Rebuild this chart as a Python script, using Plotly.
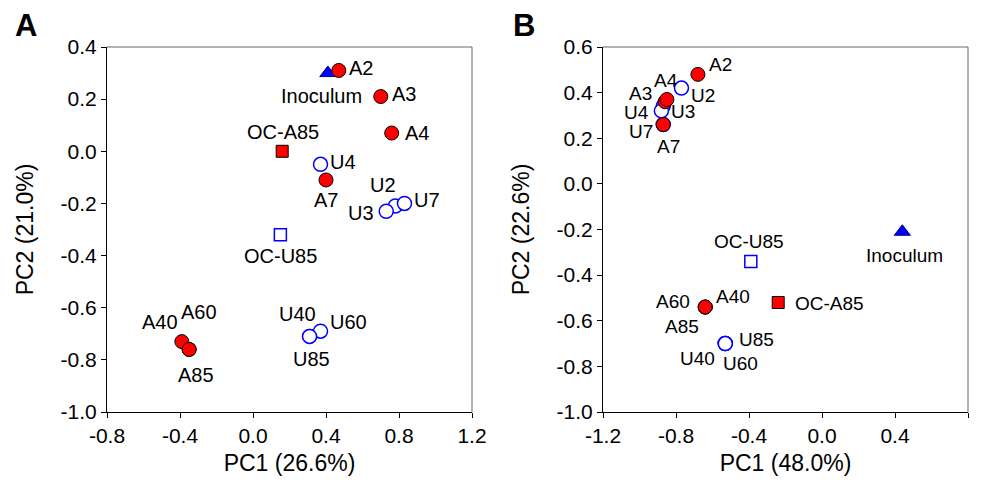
import plotly.graph_objects as go

# ---------------- data ----------------
# Panel A
a_names = ["Inoculum", "A2", "A3", "A4", "A7", "A40", "A60", "A85",
           "U2", "U3", "U4", "U7", "U40", "U60", "U85", "OC-A85", "OC-U85"]
a_pc1 = [0.41, 0.47, 0.70, 0.76, 0.40, -0.39, -0.35, -0.35,
         0.78, 0.73, 0.37, 0.83, 0.31, 0.37, 0.31, 0.16, 0.15]
a_pc2 = [0.30, 0.31, 0.21, 0.07, -0.11, -0.73, -0.76, -0.76,
         -0.21, -0.23, -0.05, -0.20, -0.71, -0.69, -0.71, 0.00, -0.32]

# Panel B
b_names = ["Inoculum", "A2", "A3", "A4", "A7", "A40", "A60", "A85",
           "U2", "U3", "U4", "U7", "U40", "U60", "U85", "OC-A85", "OC-U85"]
b_pc1 = [0.44, -0.68, -0.86, -0.85, -0.87, -0.64, -0.64, -0.64,
         -0.77, -0.87, -0.88, -0.87, -0.53, -0.53, -0.53, -0.24, -0.39]
b_pc2 = [-0.21, 0.48, 0.36, 0.37, 0.26, -0.54, -0.54, -0.54,
         0.42, 0.34, 0.32, 0.26, -0.70, -0.70, -0.70, -0.52, -0.34]

a_xticks = [-0.8, -0.4, 0.0, 0.4, 0.8, 1.2]
a_xtext = ["-0.8", "-0.4", "0.0", "0.4", "0.8", "1.2"]
a_yticks = [0.4, 0.2, 0.0, -0.2, -0.4, -0.6, -0.8, -1.0]
a_ytext = ["0.4", "0.2", "0.0", "-0.2", "-0.4", "-0.6", "-0.8", "-1.0"]
b_xticks = [-1.2, -0.8, -0.4, 0.0, 0.4, 0.8]
b_xtext = ["-1.2", "-0.8", "-0.4", "0.0", "0.4", "0.8"]
b_yticks = [0.6, 0.4, 0.2, 0.0, -0.2, -0.4, -0.6, -0.8, -1.0]
b_ytext = ["0.6", "0.4", "0.2", "0.0", "-0.2", "-0.4", "-0.6", "-0.8", "-1.0"]

# ---------------- styles ----------------
def group_of(name):
    if name == "Inoculum":
        return "ino"
    if name == "OC-A85":
        return "oca"
    if name == "OC-U85":
        return "ocu"
    return "A" if name.startswith("A") else "U"

styles = {
    "ino": dict(symbol="triangle-up", size=14, color="#0000FF", line=dict(color="#000080", width=1)),
    "A": dict(symbol="circle", size=14, color="#FF0000", line=dict(color="#000000", width=1)),
    "U": dict(symbol="circle", size=14, color="#FFFFFF", line=dict(color="#0000FF", width=1.5)),
    "oca": dict(symbol="square", size=12, color="#FF0000", line=dict(color="#000000", width=1)),
    "ocu": dict(symbol="square", size=12, color="#FFFFFF", line=dict(color="#0000FF", width=1.5)),
}
draw_order = ["U", "ocu", "ino", "oca", "A"]

# label offsets in pixels (dx right, dy down)
a_offsets = {
    "Inoculum": (-6, 23), "A2": (22, -2), "A3": (23, -3), "A4": (25, 0),
    "A7": (0, 20), "A40": (-22, -20), "A60": (10, -37), "A85": (7, 26),
    "U2": (-12, -21), "U3": (-25, 2), "U4": (22, -2), "U7": (23, -3),
    "U40": (-12, -22), "U60": (28, -9), "U85": (2, 23),
    "OC-A85": (1, -19), "OC-U85": (0, 21),
}
b_offsets = {
    "Inoculum": (2, 24), "A2": (23, -10), "A3": (-25, -8), "A4": (-1, -19),
    "A7": (5, 22), "A40": (28, -11), "A60": (-32, -6), "A85": (-23, 19),
    "U2": (22, 7), "U3": (20, 5), "U4": (-25, 2), "U7": (-22, 7),
    "U40": (-28, 15), "U60": (15, 20), "U85": (31, -4),
    "OC-A85": (51, 1), "OC-U85": (-2, -20),
}

FONT = "Liberation Sans, Arial, Helvetica, sans-serif"

fig = go.Figure()
annotations = []

def add_panel(names, xs, ys, offsets, xa, ya, fsize):
    for g in draw_order:
        idx = [i for i, n in enumerate(names) if group_of(n) == g]
        st = styles[g]
        fig.add_trace(go.Scatter(
            x=[xs[i] for i in idx], y=[ys[i] for i in idx],
            mode="markers", xaxis=xa, yaxis=ya, showlegend=False,
            marker=dict(symbol=st["symbol"], size=st["size"], color=st["color"], line=st["line"]),
            hoverinfo="text", text=[names[i] for i in idx], cliponaxis=False,
        ))
    for i, n in enumerate(names):
        dx, dy = offsets[n]
        annotations.append(dict(
            x=xs[i], y=ys[i], xref=xa, yref=ya, text=n, showarrow=False,
            xshift=dx, yshift=-dy, font=dict(family=FONT, size=fsize, color="#000000"),
            xanchor="center", yanchor="middle",
        ))

add_panel(a_names, a_pc1, a_pc2, a_offsets, "x", "y", 20)
add_panel(b_names, b_pc1, b_pc2, b_offsets, "x2", "y2", 19)

axis_common = dict(
    showline=True, linecolor="#000000", linewidth=1, mirror=False,
    ticks="outside", ticklen=5, tickcolor="#000000", tickwidth=1,
    showgrid=False, zeroline=False, automargin=False,
    tickfont=dict(family=FONT, size=21, color="#000000"),
)
title_font = dict(family=FONT, size=23, color="#000000")

ydom = [1 - 412 / 486, 1 - 47 / 486]
fig.update_layout(
    width=982, height=486,
    margin=dict(l=0, r=0, t=0, b=0),
    paper_bgcolor="white", plot_bgcolor="white",
    xaxis=dict(domain=[107 / 982, 472 / 982], range=[-0.8, 1.2], tickvals=a_xticks, ticktext=a_xtext,
               title=dict(text="PC1 (26.6%)", font=title_font, standoff=8), anchor="y", **axis_common),
    yaxis=dict(domain=ydom, range=[-1.0, 0.4], tickvals=a_yticks, ticktext=a_ytext,
               title=dict(text="PC2 (21.0%)", font=title_font, standoff=20), anchor="x", **axis_common),
    xaxis2=dict(domain=[603 / 982, 968 / 982], range=[-1.2, 0.8], tickvals=b_xticks, ticktext=b_xtext,
                title=dict(text="PC1 (48.0%)", font=title_font, standoff=8), anchor="y2", **axis_common),
    yaxis2=dict(domain=ydom, range=[-1.0, 0.6], tickvals=b_yticks, ticktext=b_ytext,
                title=dict(text="PC2 (22.6%)", font=title_font, standoff=20), anchor="x2", **axis_common),
)

# gray top/right frame lines
for xr, yr in [("x domain", "y domain"), ("x2 domain", "y2 domain")]:
    fig.add_shape(type="line", xref=xr, yref=yr, x0=0, x1=1, y0=1, y1=1,
                  line=dict(color="#666666", width=1))
    fig.add_shape(type="line", xref=xr, yref=yr, x0=1, x1=1, y0=0, y1=1,
                  line=dict(color="#666666", width=1))

# panel letters
annotations.append(dict(x=26 / 982, y=1 - 25 / 486, xref="paper", yref="paper", text="<b>A</b>",
                        showarrow=False, font=dict(family=FONT, size=31, color="#000000"),
                        xanchor="center", yanchor="middle"))
annotations.append(dict(x=524 / 982, y=1 - 25 / 486, xref="paper", yref="paper", text="<b>B</b>",
                        showarrow=False, font=dict(family=FONT, size=31, color="#000000"),
                        xanchor="center", yanchor="middle"))

fig.update_layout(annotations=annotations)
fig.write_html("out.html")
